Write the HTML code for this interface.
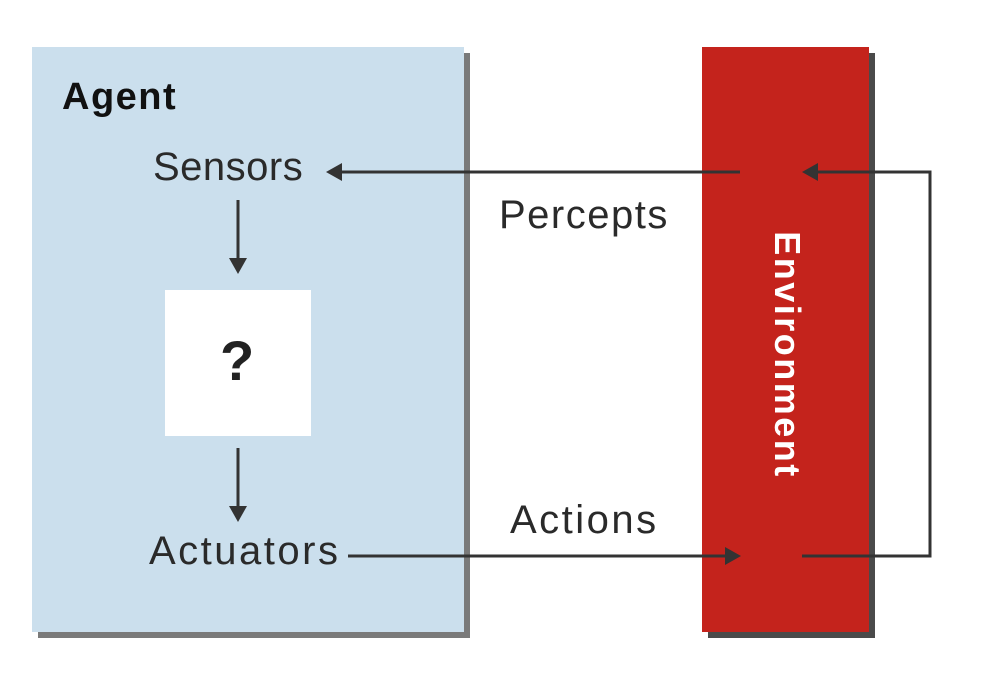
<!DOCTYPE html>
<html><head><style>
body{margin:0;width:982px;height:674px;background:#fff;position:relative;overflow:hidden;font-family:"Liberation Sans",sans-serif}
.a{position:absolute}
.t{position:absolute;font-size:40px;color:#2a2a2a;line-height:1;white-space:nowrap;letter-spacing:1.5px}
</style></head><body>
<div class="a" style="left:38px;top:53px;width:432px;height:585px;background:#7a7a7a"></div>
<div class="a" style="left:32px;top:47px;width:432px;height:585px;background:#cbdfed"></div>
<div class="a" style="left:708px;top:53px;width:167px;height:585px;background:#4a4a4a"></div>
<div class="a" style="left:702px;top:47px;width:167px;height:585px;background:#c4231c"></div>
<div class="a" style="left:165px;top:290px;width:146px;height:146px;background:#fff"></div>
<div class="a" style="left:62px;top:76px;font-size:38px;font-weight:bold;color:#111;letter-spacing:1.5px">Agent</div>
<div class="a" style="left:220px;top:328px;font-size:56px;font-weight:bold;color:#222">?</div>
<div class="t" style="left:153px;top:147px;letter-spacing:0.5px">Sensors</div>
<div class="t" style="left:499px;top:195px">Percepts</div>
<div class="t" style="left:510px;top:500px;letter-spacing:2.5px">Actions</div>
<div class="t" style="left:149px;top:531px;letter-spacing:2.5px">Actuators</div>
<div class="a" style="left:787px;top:355px;transform:translate(-50%,-50%) rotate(90deg);font-size:36px;font-weight:bold;color:#fff;white-space:nowrap;letter-spacing:2.5px">Environment</div>
<svg class="a" style="left:0;top:0" width="982" height="674">
<g stroke="#333" stroke-width="3" fill="none">
<line x1="740" y1="172" x2="340" y2="172"/>
<polyline points="815,172 930,172 930,556 802,556"/>
<line x1="348" y1="556" x2="728" y2="556"/>
<line x1="238" y1="200" x2="238" y2="262"/>
<line x1="238" y1="448" x2="238" y2="510"/>
</g>
<g fill="#333">
<polygon points="326,172 342,163 342,181"/>
<polygon points="802,172 818,163 818,181"/>
<polygon points="741,556 725,547 725,565"/>
<polygon points="238,274 229,258 247,258"/>
<polygon points="238,522 229,506 247,506"/>
</g>
</svg>
</body></html>
